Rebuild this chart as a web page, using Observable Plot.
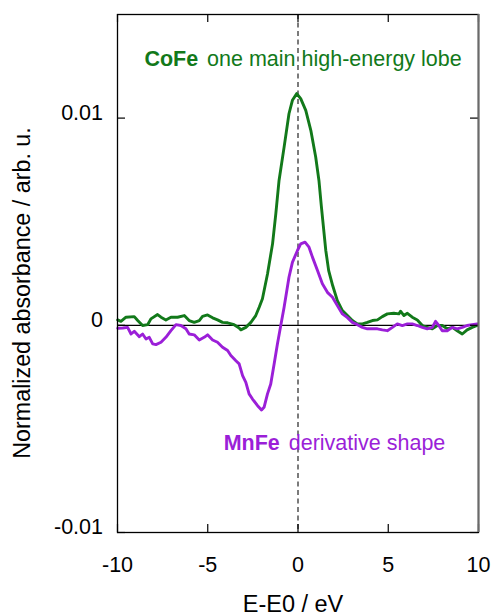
<!DOCTYPE html>
<html><head><meta charset="utf-8">
<script src="https://cdn.jsdelivr.net/npm/d3@7"></script>
<script src="https://cdn.jsdelivr.net/npm/@observablehq/plot@0.6"></script>
<style>
body{margin:0;background:#fff;}
#chart svg{font-family:"Liberation Sans",Arial,Helvetica,sans-serif;}
</style></head><body><div id="chart"></div>
<script>
// ---- data ----
const energyCoFe = [-9.99,-9.81,-9.53,-9.07,-8.88,-8.61,-8.33,-8.15,-7.78,-7.59,-7.32,-7.04,-6.67,-6.30,-6.03,-5.75,-5.47,-5.29,-5.01,-4.73,-4.46,-4.18,-3.90,-3.54,-3.26,-3.17,-2.89,-2.61,-2.34,-2.15,-1.97,-1.69,-1.41,-1.23,-1.05,-0.77,-0.50,-0.31,-0.07,0.15,0.43,0.71,0.98,1.16,1.29,1.40,1.54,1.70,1.92,2.18,2.46,2.74,3.01,3.29,3.57,3.84,4.12,4.40,4.67,4.95,5.31,5.59,5.68,5.87,6.06,6.33,6.61,6.89,7.16,7.44,7.72,7.99,8.27,8.55,8.82,9.10,9.37,9.65,9.93];
const absCoFe = [0.00026,0.00019,0.00039,0.00042,0.00023,-0.00001,0.00003,0.00031,0.00052,0.00039,0.00026,0.00039,0.00039,0.00047,0.00023,0.00014,0.00023,0.00043,0.00050,0.00036,0.00026,0.00014,0.00012,0.00003,-0.00013,-0.00022,-0.00010,0.00014,0.00047,0.00087,0.00128,0.00248,0.00393,0.00538,0.00699,0.00860,0.01021,0.01086,0.01118,0.01094,0.01037,0.00941,0.00812,0.00699,0.00578,0.00482,0.00361,0.00264,0.00192,0.00119,0.00071,0.00047,0.00023,0.00007,0.00007,0.00014,0.00023,0.00026,0.00042,0.00055,0.00058,0.00055,0.00068,0.00047,0.00058,0.00039,0.00026,-0.00001,-0.00010,-0.00017,-0.00001,-0.00001,-0.00017,-0.00010,-0.00026,-0.00042,-0.00022,-0.00010,-0.00001];
const energyMnFe = [-9.99,-9.71,-9.44,-9.25,-9.07,-8.79,-8.61,-8.42,-8.24,-8.05,-7.87,-7.59,-7.32,-7.04,-6.76,-6.49,-6.21,-6.03,-5.75,-5.47,-5.20,-5.01,-4.73,-4.46,-4.18,-3.90,-3.72,-3.44,-3.26,-3.07,-2.89,-2.71,-2.52,-2.24,-2.02,-1.88,-1.69,-1.51,-1.32,-1.14,-0.95,-0.77,-0.68,-0.50,-0.31,-0.03,0.15,0.39,0.61,0.80,1.08,1.35,1.63,1.91,2.18,2.46,2.74,3.01,3.29,3.57,3.84,4.12,4.40,4.67,4.95,5.23,5.50,5.78,6.06,6.33,6.61,6.89,7.16,7.44,7.62,7.80,7.99,8.27,8.55,8.82,9.10,9.37,9.65,9.93];
const absMnFe = [-0.00014,-0.00013,-0.00010,-0.00042,-0.00029,-0.00055,-0.00042,-0.00066,-0.00058,-0.00090,-0.00093,-0.00082,-0.00058,-0.00026,0.00003,-0.00001,-0.00017,-0.00042,-0.00046,-0.00071,-0.00058,-0.00046,-0.00071,-0.00082,-0.00106,-0.00122,-0.00146,-0.00171,-0.00186,-0.00243,-0.00275,-0.00331,-0.00356,-0.00388,-0.00409,-0.00396,-0.00331,-0.00283,-0.00186,-0.00090,0.00002,0.00087,0.00135,0.00232,0.00304,0.00361,0.00393,0.00401,0.00377,0.00329,0.00264,0.00200,0.00159,0.00135,0.00095,0.00055,0.00037,0.00014,0.00003,-0.00010,-0.00017,-0.00017,-0.00017,-0.00022,-0.00026,-0.00010,0.00007,-0.00001,0.00007,0.00007,-0.00001,-0.00010,-0.00017,-0.00010,0.00019,-0.00001,-0.00026,-0.00026,-0.00010,-0.00017,-0.00010,-0.00001,0.00003,0.00007];
const seriesNames = ["CoFe", "MnFe"];
const seriesNotes = ["one main high-energy lobe", "derivative shape"];
const xTicks = [-10, -5, 0, 5, 10];
const xTickLabels = ["-10", "-5", "0", "5", "10"];
const yTicks = [-0.01, 0, 0.01];
const yTickLabels = ["-0.01", "0", "0.01"];
const xLabel = "E-E0 / eV";
const yLabel = "Normalized absorbance / arb. u.";

// ---- layout / style ----
const W = 492, H = 616, mL = 117, mR = 14, mT = 14, mB = 84;
const plotW = W - mL - mR, plotH = H - mT - mB;
const green = "#12791a", purple = "#9b1fd8";
const seriesColors = [green, purple];
const notePos = [{x: -8.51, y: 0.01252}, {x: -4.12, y: -0.00602}];

const coFe = energyCoFe.map((x, i) => ({x, y: absCoFe[i]}));
const mnFe = energyMnFe.map((x, i) => ({x, y: absMnFe[i]}));
const notes = seriesNames.map((name, i) => ({name, note: seriesNotes[i], color: seriesColors[i], ...notePos[i]}));

const chart = Plot.plot({
  width: W, height: H,
  marginLeft: mL, marginRight: mR, marginTop: mT, marginBottom: mB,
  x: {domain: [-10, 10]},
  y: {domain: [-0.01, 0.015]},
  marks: [
    Plot.ruleY([0], {stroke: "black", strokeWidth: 1.2}),
    Plot.ruleX([0], {stroke: "#444", strokeWidth: 1.4, strokeDasharray: "5,3.5"}),
    Plot.line(coFe, {x: "x", y: "y", stroke: green, strokeWidth: 2.9, strokeLinejoin: "round"}),
    Plot.line(mnFe, {x: "x", y: "y", stroke: purple, strokeWidth: 2.9, strokeLinejoin: "round"}),
    Plot.tickX(xTicks, {x: d => d, insetTop: plotH - 8, stroke: "black", strokeWidth: 1.2}),
    Plot.tickX(xTicks, {x: d => d, insetBottom: plotH - 8, stroke: "black", strokeWidth: 1.2}),
    Plot.tickY(yTicks, {y: d => d, insetRight: plotW - 8, stroke: "black", strokeWidth: 1.2}),
    Plot.tickY(yTicks, {y: d => d, insetLeft: plotW - 8, stroke: "black", strokeWidth: 1.2}),
    Plot.frame({stroke: "black", strokeWidth: 1.3}),
    Plot.ruleX([10], {stroke: "#6a6a6a", strokeWidth: 2}),
    Plot.axisX(xTicks, {tickSize: 0, tickPadding: 24.5, fontSize: 21.5, fill: "black",
      tickFormat: d => xTickLabels[xTicks.indexOf(d)], label: null}),
    Plot.axisY(yTicks, {tickSize: 0, tickPadding: 14.5, fontSize: 21.5, fill: "black", dy: -5,
      tickFormat: d => yTickLabels[yTicks.indexOf(d)], label: null}),
    Plot.text([xLabel], {frameAnchor: "bottom", lineAnchor: "bottom", dy: 79.7, dx: -5, fontSize: 23.5, fill: "black"}),
    Plot.text([yLabel], {frameAnchor: "left", rotate: -90, textAnchor: "middle", lineAnchor: "bottom", dx: -88, dy: 19.5, fontSize: 23.3, fill: "black"}),
    Plot.text(notes, {x: "x", y: "y", text: d => d.name + " " + d.note, fill: "color",
      textAnchor: "start", lineAnchor: "bottom", fontSize: 21.5})
  ]
});
document.getElementById("chart").appendChild(chart);

// make the series name bold inside each note
chart.querySelectorAll("text").forEach(t => {
  const n = notes.find(d => t.textContent === d.name + " " + d.note);
  if (!n) return;
  t.textContent = "";
  const b = document.createElementNS("http://www.w3.org/2000/svg", "tspan");
  b.setAttribute("font-weight", "bold");
  b.textContent = n.name;
  const r = document.createElementNS("http://www.w3.org/2000/svg", "tspan");
  r.setAttribute("dx", "3");
  r.textContent = " " + n.note;
  t.appendChild(b); t.appendChild(r);
});
</script></body></html>
